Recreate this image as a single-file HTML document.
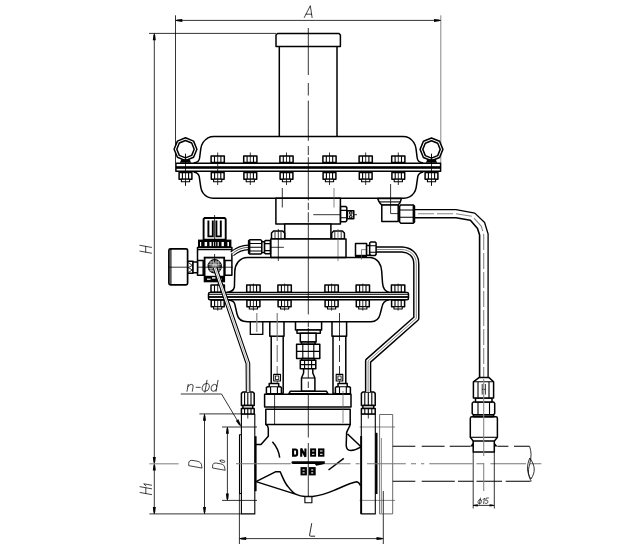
<!DOCTYPE html>
<html><head><meta charset="utf-8">
<style>
html,body{margin:0;padding:0;background:#fff;}
body{width:628px;height:548px;overflow:hidden;font-family:"Liberation Sans",sans-serif;}
svg{display:block;}
.k{stroke:#000;stroke-width:1.5;fill:none;stroke-linejoin:round;stroke-linecap:butt;}
.kf{stroke:#000;stroke-width:1.5;fill:#fff;stroke-linejoin:round;}
.m{stroke:#000;stroke-width:1.1;fill:none;stroke-linejoin:round;}
.mf{stroke:#000;stroke-width:1.1;fill:#fff;stroke-linejoin:round;}
.t{stroke:#000;stroke-width:0.8;fill:none;}
.g{stroke:#555;stroke-width:0.7;fill:none;}
.c{stroke:#222;stroke-width:0.8;fill:none;stroke-dasharray:22 3 4 3;}
.d{stroke:#000;stroke-width:0.9;fill:none;stroke-dasharray:11 4;}
.b{fill:#000;stroke:none;}
.tx{stroke:#111;stroke-width:0.7;fill:none;stroke-linecap:round;stroke-linejoin:round;}
</style></head><body>
<svg width="628" height="548" viewBox="0 0 628 548">
<defs>
<!-- bolt: origin = centre x, flange top y; flange thickness 8 -->
<g id="bolt">
 <rect class="kf" x="-6.6" y="-7" width="13.2" height="6.6"/>
 <line class="m" x1="-3.2" y1="-7" x2="-3.2" y2="-0.4"/><line class="m" x1="3.2" y1="-7" x2="3.2" y2="-0.4"/>
 <rect class="kf" x="-6.4" y="9.4" width="12.8" height="6.8"/>
 <line class="m" x1="-3.1" y1="9.4" x2="-3.1" y2="16.2"/><line class="m" x1="3.1" y1="9.4" x2="3.1" y2="16.2"/>
 <rect class="mf" x="-4.1" y="16.2" width="8.2" height="2.6"/>
 <line class="t" x1="0" y1="-10.5" x2="0" y2="22"/>
</g>
<g id="bolt2">
 <rect class="kf" x="-6.7" y="-7.6" width="13.4" height="7.2"/>
 <line class="m" x1="-3.2" y1="-7.6" x2="-3.2" y2="-0.4"/><line class="m" x1="3.2" y1="-7.6" x2="3.2" y2="-0.4"/>
 <rect class="kf" x="-6.5" y="7.4" width="13" height="6.8"/>
 <line class="m" x1="-3.1" y1="7.4" x2="-3.1" y2="14.2"/><line class="m" x1="3.1" y1="7.4" x2="3.1" y2="14.2"/>
 <rect class="mf" x="-4.1" y="14.2" width="8.2" height="2.2"/>
 <line class="t" x1="0" y1="-9" x2="0" y2="18"/>
</g>
<path id="arr" class="b" d="M0 0 L2 -0.9 L6.8 -1.5 L6.8 1.5 L2 0.9 Z"/>
</defs>
<rect width="628" height="548" fill="#fff"/>

<!-- ===== SECTION: dimensions ===== -->
<g id="dims">
 <!-- A -->
 <line class="t" x1="175.5" y1="15.3" x2="175.5" y2="163"/>
 <line class="g" x1="440.8" y1="15.3" x2="440.8" y2="163"/>
 <line class="t" x1="175.5" y1="20.4" x2="440.8" y2="20.4"/>
 <use href="#arr" transform="translate(175.5 20.4)"/>
 <use href="#arr" transform="translate(440.8 20.4) rotate(180)"/>
 <!-- H -->
 <line class="t" x1="149" y1="33.4" x2="276" y2="33.4"/>
 <line class="t" x1="154.3" y1="33.4" x2="154.3" y2="513.9"/>
 <use href="#arr" transform="translate(154.3 33.4) rotate(90)"/>
 <use href="#arr" transform="translate(154.3 463.7) rotate(-90)"/>
 <use href="#arr" transform="translate(154.3 463.7) rotate(90)"/>
 <use href="#arr" transform="translate(154.3 513.9) rotate(-90)"/>
 <line x1="149.4" y1="463.8" x2="178.6" y2="463.8" stroke="#888" stroke-width="1.1"/>
 <line class="t" x1="149.4" y1="513.9" x2="241.4" y2="513.9"/>
 <!-- D -->
 <line class="t" x1="199.4" y1="413.9" x2="242" y2="413.9"/>
 <line class="t" x1="204.5" y1="413.9" x2="204.5" y2="513.9"/>
 <use href="#arr" transform="translate(204.5 413.9) rotate(90)"/>
 <use href="#arr" transform="translate(204.5 513.9) rotate(-90)"/>
 <!-- D0 -->
 <line class="t" x1="222" y1="427" x2="257" y2="427"/>
 <line class="t" x1="222" y1="500.4" x2="257" y2="500.4"/>
 <line class="t" x1="227.4" y1="427" x2="227.4" y2="500.4"/>
 <use href="#arr" transform="translate(227.4 427) rotate(90)"/>
 <use href="#arr" transform="translate(227.4 500.4) rotate(-90)"/>
 <line class="g" x1="359.6" y1="427" x2="395" y2="427"/>
 <line class="g" x1="359.6" y1="500.4" x2="395" y2="500.4"/>
 <!-- L -->
 <line class="t" x1="239.4" y1="493.5" x2="239.4" y2="544"/>
 <line class="t" x1="383.3" y1="491" x2="383.3" y2="544"/>
 <line class="t" x1="239.4" y1="538.6" x2="383.3" y2="538.6"/>
 <use href="#arr" transform="translate(239.4 538.6)"/>
 <use href="#arr" transform="translate(383.3 538.6) rotate(180)"/>
 <!-- n-phi d leader -->
 <path class="t" d="M180.8 394 L221.5 394 L240.6 425.9"/>
 <use href="#arr" transform="translate(240.6 425.9) rotate(-121)"/>
 <!-- phi15 -->
 <line class="t" x1="473" y1="505.4" x2="494.3" y2="505.4"/>
 <use href="#arr" transform="translate(473 505.4) scale(0.7)"/>
 <use href="#arr" transform="translate(494.3 505.4) rotate(180) scale(0.7)"/>
</g>
<!-- ===== SECTION: top cylinder ===== -->
<g id="topcyl">
 <path class="k" d="M277.5 33.4 L339 33.4 L340.4 35 L340.4 46.6 L276 46.6 L276 35 Z"/>
 <line class="k" x1="279.3" y1="46.6" x2="279.3" y2="136.4"/>
 <line class="k" x1="337" y1="46.6" x2="337" y2="136.4"/>
</g>
<!-- ===== SECTION: upper housing ===== -->
<g id="upper">
 <path class="k" d="M193.6 162.9 C197.5 162.6 199.2 161.6 199.6 158 L200.8 148.6 C201.6 142.5 204.4 140 208 137.8 C210 136.7 212 136.4 214 136.4 L403 136.4 C405 136.4 407 136.7 409 137.8 C412.5 140 415.2 142.5 416 148.6 L417.2 158 C417.6 161.6 419.3 162.6 423.2 162.9"/>
 <path class="k" d="M193.6 171.9 C197 172.4 198.6 173.6 199.2 176.4 L200.8 187.3 C201.6 192 203.5 194.6 207.5 196.8 C209.5 197.8 211 198.2 213 198.2 L404 198.2 C406 198.2 407.5 197.8 409.5 196.8 C413.5 194.6 415.4 192 416.2 187.3 L417.8 176.4 C418.4 173.6 420 172.4 423.4 171.9"/>
 <g>
  <path class="kf" d="M185.5 137.8 L177.4 141.1 L174.1 149.2 L177.4 157.3 L185.5 160.6 L193.6 157.3 L196.9 149.2 L193.6 141.1 Z"/>
  <path class="kf" d="M185.5 140.5 L179.3 143.0 L176.8 149.2 L179.3 155.4 L185.5 157.9 L191.7 155.4 L194.2 149.2 L191.7 143.0 Z"/>
  <path class="b" d="M179.9 162.8 L181.3 159.2 L189.7 159.2 L191.1 162.8 Z"/>
  <line class="t" x1="185.5" y1="153.6" x2="185.5" y2="186"/>
  <g transform="translate(185.5 163)"><rect class="kf" x="-6.4" y="9.4" width="12.8" height="6.8"/><line class="m" x1="-3.1" y1="9.4" x2="-3.1" y2="16.2"/><line class="m" x1="3.1" y1="9.4" x2="3.1" y2="16.2"/><rect class="mf" x="-4.1" y="16.2" width="8.2" height="2.6"/><line class="t" x1="0" y1="-9" x2="0" y2="22"/></g>
 </g>
 <g>
  <path class="kf" d="M431.5 138.0 L423.4 141.3 L420.1 149.4 L423.4 157.5 L431.5 160.8 L439.6 157.5 L442.9 149.4 L439.6 141.3 Z"/>
  <path class="kf" d="M431.5 140.7 L425.3 143.2 L422.8 149.4 L425.3 155.6 L431.5 158.1 L437.7 155.6 L440.2 149.4 L437.7 143.2 Z"/>
  <path class="b" d="M425.9 162.8 L427.3 159.2 L435.7 159.2 L437.1 162.8 Z"/>
  <line class="t" x1="431.5" y1="153.6" x2="431.5" y2="186"/>
  <g transform="translate(431.5 163)"><rect class="kf" x="-6.4" y="9.4" width="12.8" height="6.8"/><line class="m" x1="-3.1" y1="9.4" x2="-3.1" y2="16.2"/><line class="m" x1="3.1" y1="9.4" x2="3.1" y2="16.2"/><rect class="mf" x="-4.1" y="16.2" width="8.2" height="2.6"/><line class="t" x1="0" y1="-9" x2="0" y2="22"/></g>
 </g>
 <use href="#bolt" x="217.7" y="163"/><use href="#bolt" x="250.3" y="163"/><use href="#bolt" x="286.5" y="163"/>
 <use href="#bolt" x="329.5" y="163"/><use href="#bolt" x="365.7" y="163"/><use href="#bolt" x="398.3" y="163"/>
 <rect class="kf" x="175.9" y="163.3" width="264.7" height="8"/>
 <rect class="b" x="175.9" y="166.2" width="264.7" height="2.6"/>
 <g class="t"><line x1="185.5" y1="163" x2="185.5" y2="172"/><line x1="431.5" y1="163" x2="431.5" y2="172"/><line x1="217.7" y1="163" x2="217.7" y2="166"/><line x1="217.7" y1="169" x2="217.7" y2="172"/></g>
</g>
<!-- ===== SECTION: neck ===== -->
<g id="neck">
 <rect class="kf" x="275.9" y="198.3" width="64.5" height="25.6"/>
 <line class="t" x1="282.3" y1="188" x2="282.3" y2="207.5"/>
 <line class="g" x1="334" y1="188" x2="334" y2="207.5"/>
 <line class="t" x1="313.3" y1="214.7" x2="357" y2="214.7"/>
 <!-- side nut -->
 <path class="kf" d="M340.6 206.4 L345.6 206.4 L346.8 207.6 L346.8 220.6 L345.6 221.8 L340.6 221.8 Z"/>
 <path class="m" d="M340.6 210.4 L346.8 210.4 M340.6 217.8 L346.8 217.8"/>
 <rect class="kf" x="347.4" y="210.8" width="6.4" height="8"/>
 <circle class="m" cx="350.8" cy="212.9" r="1.3"/><circle class="m" cx="350.8" cy="216.8" r="1.3"/>
 <!-- stem -->
 <rect class="kf" x="284.7" y="223.9" width="46.2" height="15.2"/>
 <!-- nuts on block -->
 <path class="kf" d="M271.5 239 L271.5 233 L273.5 231 L282.7 231 L284.7 233 L284.7 239 Z"/>
 <path class="t" d="M275 231.5 L275 239 M281 231.5 L281 239"/>
 <path class="kf" d="M331.7 239 L331.7 233 L333.7 231 L342.4 231 L344.4 233 L344.4 239 Z"/>
 <path class="t" d="M334.8 231.5 L334.8 239 M341.2 231.5 L341.2 239"/>
 <!-- block -->
 <rect class="kf" x="270.8" y="239" width="75.2" height="18.6"/>
 <line class="t" x1="278.3" y1="229" x2="278.3" y2="261"/>
 <line class="g" x1="338" y1="229" x2="338" y2="261"/>
 <line class="t" x1="270.8" y1="247.3" x2="283.9" y2="247.3"/>
</g>
<!-- ===== SECTION: lower housing ===== -->
<g id="lower">
 <path class="k" d="M227 292.4 C231 292 233.6 290.6 234.4 287 L234.8 271.3 C235 265 239 257.4 247.6 257.4 L370.2 257.4 C378 258 381.5 265 381.7 271.3 L382.5 282.8 C382.8 287 384 291.6 389.5 292.4"/>
 <path class="k" d="M227.5 299.8 C232 300.2 234.2 301.6 234.8 304.2 L237 314 C238 318.6 241.5 321.8 247.6 321.8 L371 321.8 C376 321.6 379 318.6 380 314.6 L381.7 308 C382.4 303.4 384.6 300.4 389 299.8"/>
 <use href="#bolt2" x="217.7" y="292.6"/><use href="#bolt2" x="253.4" y="292.6"/><use href="#bolt2" x="284.6" y="292.6"/>
 <use href="#bolt2" x="331.6" y="292.6"/><use href="#bolt2" x="362.8" y="292.6"/><use href="#bolt2" x="398.1" y="292.6"/>
 <rect class="kf" x="208.5" y="292.5" width="200" height="7.2" rx="1.5"/><line class="t" x1="208.5" y1="294.5" x2="408.5" y2="294.5"/>
 <rect class="b" x="208.5" y="296.1" width="200" height="1.8"/>
</g>
<!-- ===== SECTION: yoke ===== -->
<g id="yoke">
 <!-- small rect -->
 <rect class="kf" x="250.3" y="321.8" width="12.5" height="12.6" style="stroke-width:1.3"/>
 <line x1="256.8" y1="313" x2="256.8" y2="332" stroke="#888" stroke-width="1.2"/>
 <!-- pillars -->
 <path class="kf" d="M269.8 321.8 L284 321.8 L284 336.2 L283.2 336.2 L283.2 393.6 L271.2 393.6 L271.2 336.2 L269.8 336.2 Z"/>
 <line class="k" x1="271.2" y1="336.2" x2="283.2" y2="336.2"/>
 <path class="kf" d="M332 321.8 L346.6 321.8 L346.6 336.2 L345.8 336.2 L345.8 393.6 L333 393.6 L333 336.2 L332 336.2 Z"/>
 <line class="k" x1="333" y1="336.2" x2="345.8" y2="336.2"/>
 <path d="M277.2 313 L277.2 341 M277.2 345 L277.2 362 M277.2 366 L277.2 383" fill="none" stroke="#777" stroke-width="1.1"/>
 <path class="t" d="M339.5 313 L339.5 341 M339.5 345 L339.5 362 M339.5 366 L339.5 383"/>
 
 <!-- small squares -->
 <rect class="mf" x="273.7" y="374.4" width="6.8" height="6.6"/><rect class="t" x="275.4" y="376" width="3.4" height="3.4"/>
 <rect class="mf" x="336.2" y="374.4" width="6.6" height="6.6"/><rect class="t" x="337.9" y="376" width="3.2" height="3.4"/>
 <!-- pillar nuts -->
 <path class="kf" d="M266.4 393.8 L266.4 387.6 L267.4 386.7 L269.2 386.7 L269.2 383.4 L278.7 383.4 L278.7 386.7 L280.4 386.7 L281.4 387.6 L281.4 393.8 Z"/>
 <path class="m" d="M270.6 386.7 L270.6 393.8 M277.4 386.7 L277.4 393.8 M269.2 386.7 L278.7 386.7"/>
 <path class="kf" d="M335.4 393.8 L335.4 387.6 L336.4 386.7 L338 386.7 L338 383.4 L347.2 383.4 L347.2 386.7 L349.4 386.7 L350.4 387.6 L350.4 393.8 Z"/>
 <path class="m" d="M339.5 386.7 L339.5 393.8 M346.3 386.7 L346.3 393.8 M338 386.7 L347.2 386.7"/>
 <!-- centre stem -->
 <rect class="kf" x="295.5" y="321.8" width="26.1" height="8.2"/>
 <rect class="kf" x="297" y="330" width="23.3" height="3.2"/>
 <rect class="kf" x="300.3" y="333.2" width="15.8" height="8.8"/>
 <rect class="kf" x="301.5" y="342" width="13.6" height="2.2"/>
 <rect class="kf" x="296.6" y="344.2" width="23.2" height="14.2"/>
 <path class="m" d="M296.6 351.4 L319.8 351.4 M302.8 344.2 L302.8 358.4 M313.8 344.2 L313.8 358.4"/>
 <rect class="kf" x="301.8" y="358.4" width="12.6" height="2"/>
 <rect class="kf" x="300.3" y="360.3" width="15.5" height="8.5"/>
 <path class="m" d="M300.3 364.6 L315.8 364.6 M304.6 360.3 L304.6 368.8 M311.6 360.3 L311.6 368.8"/>
 <path class="kf" d="M303.6 368.8 L312.8 368.8 L312.8 373 L314.9 378 L314.9 391.3 L301.5 391.3 L301.5 378 L303.6 373 Z"/>
 <line class="m" x1="301.5" y1="378" x2="314.9" y2="378"/>
 <path class="kf" d="M290.2 391.3 L326.6 391.3 L328 393.8 L288.8 393.8 Z"/>
</g>
<!-- ===== SECTION: body ===== -->
<g id="body">
 <!-- bonnet flange -->
 <rect class="kf" x="264.6" y="394.2" width="86.4" height="12.8"/>
 <rect class="kf" x="265.8" y="409.2" width="84.4" height="15.2"/>
 <line class="t" x1="274.6" y1="394" x2="274.6" y2="424"/>
 <line class="g" x1="343" y1="391" x2="343" y2="423"/>
 <!-- body outline left -->
 <path class="k" d="M265.8 424.4 C267.6 425.4 268.3 426.4 268.3 428.4 L268.3 436.2 L261 444.6 L256 444.6"/>
 <path class="k" d="M272.4 441.7 C276.6 446.5 279 451.5 279.7 457.7"/>
 <!-- body outline right -->
 <path class="k" d="M350.2 424.4 C349.6 427.5 347.4 429.5 346.6 432.8 L346.2 445.5 C346.4 448.6 347.8 450.4 350.6 450.5 C354.4 450.4 357.6 449 361 446.8 L347.6 434"/>
 <!-- bottom of body -->
 <path class="k" d="M256 481.6 L275.4 471.8 L280.2 471.8 C283 478 285 483.5 288 486.6 C291 490.5 293.6 493 296.2 494.4 Z"/>
 <path class="k" d="M296.2 494.4 C299.5 495.8 302 496.3 305 496.5 L312.5 496.5 C320 495.6 327 493.4 334 490.4 C342 487 350 483 356.8 481.8 C358.6 482.2 359.6 483.6 360.6 485.6"/>
 <rect class="mf" x="304.9" y="496.8" width="7" height="5.9"/>
 <line class="k" x1="328.5" y1="470" x2="343.8" y2="458.4"/>
 <!-- left flange -->
 <path class="m" d="M241.4 414 L241.4 513.9 L254.8 513.9 L254.8 414 Z" fill="#fff"/>
 <path class="m" d="M241.4 434.7 L239.5 434.7 L239.5 493.5 L241.4 493.5"/>
 <rect class="b" x="254.6" y="436.2" width="2" height="55"/>
 <!-- right flange -->
 <path class="m" d="M361.3 414 L361.3 513.9 L375.3 513.9 L375.3 414 Z" fill="#fff"/>
 <rect class="b" x="360.2" y="436" width="1.9" height="78"/>
 <rect class="b" x="375.3" y="432.8" width="2.2" height="61.2"/>
 <!-- mating flange (thin) -->
 <path class="t" d="M379.6 494 L379.6 414.5 L392.7 414.5 L392.7 513.9 L379.6 513.9 L379.6 494" style="stroke:#444"/>
 <line class="g" x1="381.4" y1="438" x2="381.4" y2="513"/>
 <g>
 <path class="kf" d="M241.4 405.5 L241.4 393.4 L242.8 392 L252.79999999999998 392 L254.2 393.4 L254.2 405.5 Z"/>
 <path class="m" d="M244.6 392.6 L244.6 405.5 M247.8 392.6 L247.8 405.5 M251.0 392.6 L251.0 405.5"/>
 <rect class="kf" x="242.9" y="405.5" width="9.799999999999983" height="3"/>
 <rect class="kf" x="241.4" y="408.5" width="12.799999999999983" height="5.6"/>
 <path class="m" d="M244.6 408.5 L244.6 414 M247.8 408.5 L247.8 414 M251.0 408.5 L251.0 414"/>
 <line class="t" x1="247.8" y1="414" x2="247.8" y2="418.5"/>
 </g>
 <g>
 <path class="kf" d="M361.4 405.5 L361.4 393.4 L362.79999999999995 392 L373.8 392 L375.2 393.4 L375.2 405.5 Z"/>
 <path class="m" d="M364.8 392.6 L364.8 405.5 M368.3 392.6 L368.3 405.5 M371.8 392.6 L371.8 405.5"/>
 <rect class="kf" x="362.9" y="405.5" width="10.800000000000011" height="3"/>
 <rect class="kf" x="361.4" y="408.5" width="13.800000000000011" height="5.6"/>
 <path class="m" d="M364.8 408.5 L364.8 414 M368.3 408.5 L368.3 414 M371.8 408.5 L371.8 414"/>
 <line class="t" x1="368.3" y1="414" x2="368.3" y2="418.5"/>
 </g>
</g>
<!-- ===== SECTION: regulator ===== -->
<g id="reg">
 <!-- knob -->
 <path d="M204.6 218 L224.6 218 L225.7 219.2 L225.7 239.6 L203.6 239.6 L203.6 219.2 Z" fill="#fff" stroke="#000" stroke-width="1.9"/>
 <path d="M208.4 220.6 L208.4 236.4 L212.8 236.4 L212.8 220.6 M216.4 220.6 L216.4 236.4 L220.8 236.4 L220.8 220.6" fill="none" stroke="#000" stroke-width="1.9"/>
 <line class="t" x1="214.6" y1="215" x2="214.6" y2="250"/>
 <!-- knurl ring -->
 <rect class="b" x="198" y="239.6" width="33.4" height="7.6"/>
 <g fill="#fff"><rect x="200" y="242" width="1.2" height="4.2"/><rect x="204.6" y="242" width="2.5" height="4.2"/><rect x="209.5" y="242" width="2" height="4.2"/><rect x="213.2" y="242" width="0.8" height="4.2"/><rect x="215.4" y="242" width="0.7" height="4.2"/><rect x="217.6" y="242" width="1.2" height="4.2"/><rect x="221.5" y="242" width="2.4" height="4.2"/><rect x="227.4" y="242" width="1.6" height="4.2"/></g>
 <!-- body -->
 <rect class="kf" x="197.5" y="247.6" width="34.4" height="27.6"/>
 <line class="m" x1="197.5" y1="249.6" x2="231.9" y2="249.6"/>
 <path class="k" d="M197.5 260.6 L203.2 260.6 L203.2 275.2 M231.9 260.6 L224.9 260.6 L224.9 275.2"/>
 <!-- inner box -->
 <rect x="204.6" y="257.6" width="19.6" height="23.8" fill="#fff" stroke="#000" stroke-width="1.8"/>
 <rect class="b" x="204.6" y="275.8" width="19.6" height="5.8"/>
 <g fill="#fff"><rect x="207" y="278.6" width="3.6" height="1.2"/><rect x="212" y="277.2" width="3.4" height="1.4"/><rect x="219" y="278.6" width="3" height="1.2"/></g>
 <circle cx="214.7" cy="266.3" r="6.6" fill="#555" stroke="#000" stroke-width="1.2"/>
 <circle cx="214.7" cy="266.3" r="3.6" fill="#aaa" stroke="#222" stroke-width="0.8"/>
 <path class="t" d="M209 262 L220 262 M208.3 264.4 L221 264.4 M208.3 268.4 L221 268.4 M209.3 270.6 L220 270.6 M211 260.6 L211 272 M213.4 260 L213.4 272.6 M216 260 L216 272.6 M218.4 260.6 L218.4 272" style="stroke:#ddd;stroke-width:.5"/>
 <line class="t" x1="197.5" y1="267.2" x2="233" y2="267.2"/>
 <line class="t" x1="214.6" y1="254" x2="214.6" y2="262"/>
 <!-- gauge -->
 <rect x="168.9" y="248.9" width="18.7" height="36" rx="1.6" fill="#fff" stroke="#000" stroke-width="1.7"/>
 <line class="m" x1="170.9" y1="249" x2="170.9" y2="285"/>
 <line class="t" x1="168.9" y1="267.2" x2="187.6" y2="267.2"/>
 <!-- connector -->
 <rect class="kf" x="187.8" y="261.2" width="5.2" height="12"/>
 <path class="t" d="M188.4 262.6 L192.4 265.4 L188.4 267.6 L192.4 270 L188.4 272.4"/>
 <rect class="kf" x="193" y="261.9" width="4.5" height="10.8"/>
</g>
<!-- ===== SECTION: tubes ===== -->
<g id="tubes">
 <!-- left diagonal tube -->
 <path d="M215 267.6 L247.9 363.4 L248.1 392" fill="none" stroke="#000" stroke-width="4.7" stroke-linejoin="round"/><path d="M215 267.6 L247.9 363.4 L248.1 392" fill="none" stroke="#fff" stroke-width="2.5" stroke-linejoin="round"/><path d="M215 267.6 L247.9 363.4 L248.1 392" fill="none" stroke="#888" stroke-width="0.7" stroke-linejoin="round"/>
 <!-- regulator -> fitting tube -->
 <path d="M232 253.8 C236 250.6 241 247.5 248.6 247.4" fill="none" stroke="#000" stroke-width="5.6" stroke-linejoin="round"/><path d="M232 253.8 C236 250.6 241 247.5 248.6 247.4" fill="none" stroke="#fff" stroke-width="3.4" stroke-linejoin="round"/><path d="M232 253.8 C236 250.6 241 247.5 248.6 247.4" fill="none" stroke="#555" stroke-width="1.0" stroke-linejoin="round"/>
 <!-- left fitting nuts -->
 <path class="kf" d="M248.6 240.8 L249.8 239.7 L260.6 239.7 L261.8 240.8 L261.8 253 L260.6 254.1 L249.8 254.1 L248.6 253 Z"/>
 <rect class="b" x="248.2" y="240.4" width="2.2" height="13"/>
 <path class="m" d="M250 243.5 L261.8 243.5 M250 247.3 L261.8 247.3 M250 251 L261.8 251"/>
 <rect class="kf" x="261.8" y="241.8" width="2.8" height="10.6"/>
 <path class="kf" d="M264.6 241.4 L265.4 240.6 L270.4 240.6 L270.4 253.8 L265.4 253.8 L264.6 253 Z"/>
 <path class="m" d="M264.6 243.6 L270.4 243.6 M264.6 250.6 L270.4 250.6"/>
 <!-- right small tube -->
 <path d="M376 249.5 L402 249.5 C409 249.8 416.3 254 416.3 264 L416.3 318.4 L368.1 361 L368.1 392" fill="none" stroke="#000" stroke-width="6.4" stroke-linejoin="round"/><path d="M376 249.5 L402 249.5 C409 249.8 416.3 254 416.3 264 L416.3 318.4 L368.1 361 L368.1 392" fill="none" stroke="#fff" stroke-width="3.5" stroke-linejoin="round"/><path d="M376 249.5 L402 249.5 C409 249.8 416.3 254 416.3 264 L416.3 318.4 L368.1 361 L368.1 392" fill="none" stroke="#666" stroke-width="0.8" stroke-linejoin="round"/>
 <!-- lower right fitting: box + nut -->
 <rect class="kf" x="355.5" y="243.4" width="11.1" height="12.4"/>
 <rect class="b" x="355" y="254.8" width="12" height="2.4"/>
 <path class="g" d="M361.5 259.6 L361.5 249.6 L366.6 249.6"/>
 <rect class="kf" x="366.6" y="245.6" width="3.1" height="9.6"/>
 <path class="kf" d="M369.7 243 L370.7 242 L375.1 242 L376.1 243 L376.1 254.4 L375.1 255.4 L370.7 255.4 L369.7 254.4 Z"/>
 <path class="m" d="M369.7 245.8 L376.1 245.8 M369.7 252.2 L376.1 252.2"/>
 <!-- big tube -->
 <path class="k" d="M414.4 209.6 L456 209.6 L474.8 213.1 L484.6 222.5 L488.1 234 L488.1 377" style="stroke-width:1.3"/>
 <path class="k" d="M414.4 217.8 L456 217.8 L470.4 220.3 L477.5 228.5 L479.6 235 L479.6 377" style="stroke-width:1.6"/>
 <path d="M418 213.7 L456 213.7 L472.6 216.4 L481.4 226.3 L483.7 235 L483.7 377" fill="none" stroke="#888" stroke-width="1.1" stroke-dasharray="16 3"/>
 <!-- elbow on upper housing -->
 <path class="kf" d="M377.7 198.6 C378.8 202 380 204 381.8 204.9 L398 204.9 C399.6 204 400.6 202 401.3 198.6 Z"/>
 <line class="m" x1="379" y1="201.9" x2="400.4" y2="201.9"/>
 <rect class="kf" x="381.8" y="204.9" width="16.4" height="16.6"/>
 <path class="t" d="M390.6 184 L390.6 213.6 L400 213.6"/>
 <path class="kf" d="M399.6 206.2 L400.9 204.9 L413.2 204.9 L414.5 206.2 L414.5 222 L413.2 223.3 L400.9 223.3 L399.6 222 Z"/>
 <rect class="b" x="412.6" y="205.6" width="2.2" height="17"/>
 <path class="m" d="M399.6 210 L413 210 M399.6 217.2 L413 217.2"/>
</g>
<!-- ===== SECTION: pipe ===== -->
<g id="pipe">
 <!-- pipe lines -->
 <path class="m" d="M392.7 446.3 L415.3 446.3 M421.7 446.3 L444.6 446.3 M449.7 446.3 L470.3 446.3"/>
 <path class="m" d="M497.4 446.3 L508.4 446.3 M514 446.3 L529.6 446.3"/>
 <path class="m" d="M392.7 481.3 L415.3 481.3 M421.7 481.3 L454.8 481.3 M458 481.3 L473.2 481.3 M476.5 481.3 L502 481.3 M505.7 481.3 L530.6 481.3"/>
 <path d="M236 463.8 L290.8 463.8 M325 463.8 L350.6 463.8 M355.7 463.8 L359.6 463.8 M367 463.8 L405.8 463.8 M411 463.8 L416 463.8 M421 463.8 L424.2 463.8 M429.3 463.8 L472.6 463.8 M476.4 463.8 L484 463.8 M490.4 463.8 L526 463.8 M530 463.8 L541.4 463.8" fill="none" stroke="#777" stroke-width="1.1"/>
 <!-- break symbol -->
 <path class="t" d="M529.6 446.3 C531.4 452 531.6 456 529.8 463.8 C527 472 529 478 531.4 481.3"/>
 <path class="t" d="M529.8 458 C535.5 466 535.5 472 531 479 C526.5 472 526.5 466 529.8 458 Z"/>
 <!-- stub -->
 <path class="k" d="M473.2 441 L473.2 452 L494.3 452 L494.3 441"/>
 <line class="t" x1="473.2" y1="452" x2="473.2" y2="508.5"/>
 <line class="t" x1="494.3" y1="452" x2="494.3" y2="508.5"/>
 <path class="b" d="M470 446.6 L473.2 442.4 L473.2 446.6 Z M497.6 446.6 L494.3 442.4 L494.3 446.6 Z"/>
 <!-- body -->
 <path class="kf" d="M470.3 418.4 C470.3 417.4 471 416.8 472 416.8 L495.8 416.8 C496.8 416.8 497.4 417.4 497.4 418.4 L497.4 437.3 L494.4 441 L473.2 441 L470.3 437.3 Z"/>
 <line class="m" x1="470.3" y1="437.3" x2="497.4" y2="437.3"/>
 <!-- second nut -->
 <rect class="kf" x="473.4" y="414.7" width="20.2" height="2.1"/>
 <path class="kf" d="M472.2 403.2 L473.4 402 L493.5 402 L494.7 403.2 L494.7 413.5 L493.5 414.7 L473.4 414.7 L472.2 413.5 Z"/>
 <path class="m" d="M478 402 L478 414.7 M489.5 402 L489.5 414.7"/>
 <!-- ring -->
 <rect class="kf" x="475.5" y="397.9" width="16.5" height="4.1"/>
 <!-- upper nut -->
 <path class="kf" d="M479.3 377.4 L488.7 377.4 L493.6 381.8 L493.6 397.9 L473.4 397.9 L473.4 381.8 Z"/>
 <path class="m" d="M478 381.8 L478 397.9 M489 381.8 L489 397.9 M473.4 381.8 L493.6 381.8"/>
 <path class="t" d="M482.2 384 L482.2 394.6 M485.4 384 L485.4 394.6 M482.2 389.4 L485.4 389.4"/>
 <path d="M483.7 379 L483.7 456 M483.7 463 L483.7 491" fill="none" stroke="#888" stroke-width="1.1"/>
</g>
<!-- ===== SECTION: text ===== -->
<g id="text">
 <path d="M304.30 17.50 L310.32 5.70 L312.09 17.50 M306.07 14.20 L311.62 14.20" fill="none" stroke="#111" stroke-width="0.8" stroke-linecap="round" stroke-linejoin="round"/>
 <path d="M151.50 253.20 L139.90 251.11 M151.50 247.40 L139.90 245.31 M145.70 252.16 L145.70 246.36" fill="none" stroke="#111" stroke-width="0.8" stroke-linecap="round" stroke-linejoin="round"/>
 <path d="M151.60 494.60 L140.00 492.51 M151.60 488.80 L140.00 486.71 M145.80 493.56 L145.80 487.76 M145.92 485.92 L143.71 483.79 L151.60 485.21" fill="none" stroke="#111" stroke-width="0.8" stroke-linecap="round" stroke-linejoin="round"/>
 <path d="M201.70 468.00 L188.70 465.66 L188.70 463.58 Q188.70 459.68 193.12 460.48 L197.28 461.22 Q201.70 462.02 201.70 465.92 Z" fill="none" stroke="#111" stroke-width="0.8" stroke-linecap="round" stroke-linejoin="round"/>
 <path d="M224.80 470.20 L212.60 468.00 L212.60 466.05 Q212.60 462.39 216.75 463.14 L220.65 463.84 Q224.80 464.59 224.80 468.25 Z M220.16 460.78 Q220.16 461.80 221.55 462.05 L223.41 462.39 Q224.80 462.64 224.80 461.62 Q224.80 460.60 223.41 460.35 L221.55 460.01 Q220.16 459.76 220.16 460.78 Z" fill="none" stroke="#111" stroke-width="0.8" stroke-linecap="round" stroke-linejoin="round"/>
 <path d="M187.00 391.30 L188.25 384.37 M187.83 386.68 Q189.13 384.37 191.33 384.37 Q193.53 384.37 193.11 386.68 L192.28 391.30 M196.18 387.34 L200.25 387.34 M206.47 383.38 Q202.95 383.38 202.23 387.34 Q201.52 391.30 205.04 391.30 Q208.56 391.30 209.27 387.34 Q209.99 383.38 206.47 383.38 Z M204.88 392.18 L207.02 380.30 M218.02 380.30 L216.04 391.30 M216.87 386.68 Q217.29 384.37 214.54 384.37 Q211.79 384.37 211.17 387.78 Q210.54 391.30 213.29 391.30 Q216.04 391.30 216.48 388.88" fill="none" stroke="#111" stroke-width="0.8" stroke-linecap="round" stroke-linejoin="round"/>
 <path d="M311.67 523.60 L309.58 535.19 Q309.40 536.20 310.66 536.20 L314.69 536.20" fill="none" stroke="#111" stroke-width="0.9" stroke-linecap="round" stroke-linejoin="round"/>
 <path d="M480.16 499.60 Q478.34 499.60 477.97 501.65 Q477.60 503.70 479.42 503.70 Q481.25 503.70 481.62 501.65 Q481.99 499.60 480.16 499.60 Z M479.34 504.16 L480.45 498.00 M483.01 499.60 L484.55 498.00 L483.53 503.70 M488.49 498.00 L486.21 498.00 L485.64 500.51 Q486.96 499.82 487.77 500.74 Q488.34 501.99 487.34 503.13 Q486.20 504.04 484.94 503.13" fill="none" stroke="#111" stroke-width="0.7" stroke-linecap="round" stroke-linejoin="round"/>
 <g id="dn">
 <path d="M293.1 449.5 L293.1 455.6 L295.4 455.6 Q297.1 455.6 297.1 454 L297.1 451.1 Q297.1 449.5 295.4 449.5 Z" fill="none" stroke="#000" stroke-width="2.1" stroke-linejoin="miter"/>
 <path d="M301.2 456.7 L301.2 448.4 L305.4 456.7 L305.4 448.4" fill="none" stroke="#000" stroke-width="2.1" stroke-linejoin="miter"/>
 <rect class="b" x="310.1" y="448.4" width="6" height="8.3"/><rect class="b" x="318" y="448.4" width="6.4" height="8.3"/>
 <g fill="#fff"><rect x="312" y="450.5" width="2.4" height="1"/><rect x="312" y="453.8" width="2.4" height="1"/><rect x="320" y="450.5" width="2.6" height="1"/><rect x="320" y="453.8" width="2.6" height="1"/></g>
 <path class="b" d="M291.4 462.6 Q291.4 461.2 292.8 461.2 L324.8 461.2 L324.8 463.9 L316.2 465.8 L314.9 464 L292.8 464 Q291.4 464 291.4 462.6 Z"/>
 <rect class="b" x="300.5" y="467.1" width="6.4" height="8.3"/><rect class="b" x="308.9" y="467.1" width="6.8" height="8.3"/>
 <g fill="#ccc"><rect x="302.6" y="469.2" width="2" height="1.4"/><rect x="302.6" y="472.2" width="2" height="1.4"/><rect x="311.2" y="469.2" width="2" height="1.4"/><rect x="311.2" y="472.2" width="2" height="1.4"/></g>
</g>
 <path class="t" d="M308.3 28 L308.3 75 M308.3 83 L308.3 95.5 M308.3 100.6 L308.3 140.8 M308.3 146 L308.3 155 M308.3 157.3 L308.3 200.4 M308.3 202.7 L308.3 209.9 M308.3 212.3 L308.3 222.6 M308.3 224.2 L308.3 314.4 M308.3 320.8 L308.3 327 M308.3 327.8 L308.3 378 M308.3 381.6 L308.3 388 M308.3 393.5 L308.3 437.5 M308.3 443 L308.3 497"/>
</g>
</svg>
</body></html>
